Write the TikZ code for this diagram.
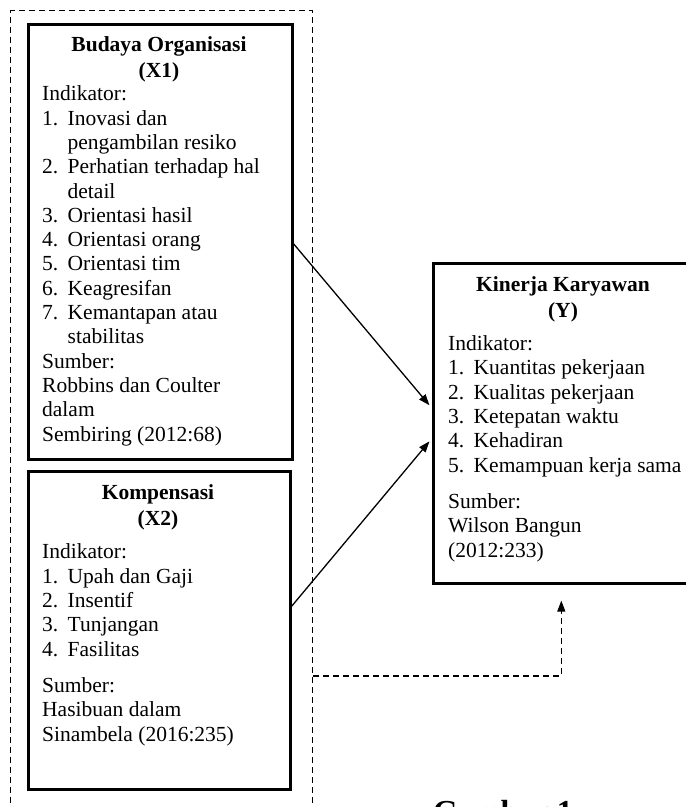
\documentclass[tikz,border=0pt]{standalone}
\usepackage{fontspec}
\setmainfont{Liberation Serif}
\usetikzlibrary{arrows.meta, positioning}

\newcommand{\nomor}[1]{\makebox[25.5pt][l]{#1}}
\newcommand{\lanjut}{\hspace*{25.5pt}}

\tikzset{
  kotak/.style={draw, line width=2.6pt, anchor=north west, inner sep=0pt},
  isi/.style={anchor=base west, align=left, inner sep=0pt, font=\fontsize{21.5}{24.3}\selectfont},
  judul/.style={anchor=base, align=center, inner sep=0pt, font=\fontsize{21.5}{26}\selectfont\bfseries},
  panah/.style={-{Triangle[length=11pt,width=8pt]}, line width=1.3pt},
  putus/.style={dash pattern=on 6pt off 4pt, line width=1.2pt}
}

\begin{document}
\begin{tikzpicture}[x=1pt, y=-1pt]
  \useasboundingbox (0,0) rectangle (686,807);
  \clip (0,0) rectangle (686,807);

  % bingkai variabel bebas
  \node[putus, draw, anchor=north west, inner sep=0pt, minimum width=302pt, minimum height=840pt] (luar) at (10,10) {};

  % kotak variabel
  \node[kotak, minimum width=264pt, minimum height=435pt] (budaya) at (27,23) {};
  \node[kotak, minimum width=262pt, minimum height=318pt] (kompensasi) at (27,470) {};
  \node[kotak, minimum width=256pt, minimum height=320pt] (kinerja) at (432,262) {};

  % X1 (anchor pada baris terakhir)
  \node[judul] (judulx1) at (159,77) {Budaya Organisasi\\(X1)};
  \node[isi] (isix1) at (42,441) {Indikator:\\
    \nomor{1.}Inovasi dan\\
    \lanjut pengambilan resiko\\
    \nomor{2.}Perhatian terhadap hal\\
    \lanjut detail\\
    \nomor{3.}Orientasi hasil\\
    \nomor{4.}Orientasi orang\\
    \nomor{5.}Orientasi tim\\
    \nomor{6.}Keagresifan\\
    \nomor{7.}Kemantapan atau\\
    \lanjut stabilitas\\
    Sumber:\\
    Robbins dan Coulter\\
    dalam\\
    Sembiring (2012:68)};

  % X2
  \node[judul] (judulx2) at (158,525) {Kompensasi\\(X2)};
  \node[isi] (isix2) at (42,741) {Indikator:\\
    \nomor{1.}Upah dan Gaji\\
    \nomor{2.}Insentif\\
    \nomor{3.}Tunjangan\\
    \nomor{4.}Fasilitas\\[12pt]
    Sumber:\\
    Hasibuan dalam\\
    Sinambela (2016:235)};

  % Y
  \node[judul] (juduly) at (563,317) {Kinerja Karyawan\\(Y)};
  \node[isi] (isiy) at (448,557) {Indikator:\\
    \nomor{1.}Kuantitas pekerjaan\\
    \nomor{2.}Kualitas pekerjaan\\
    \nomor{3.}Ketepatan waktu\\
    \nomor{4.}Kehadiran\\
    \nomor{5.}Kemampuan kerja sama\\[12pt]
    Sumber:\\
    Wilson Bangun\\
    (2012:233)};

  % panah
  \draw[panah, shorten >=4pt] ([yshift=-2pt]budaya.east) -- ([yshift=15pt]kinerja.west);
  \draw[panah, shorten >=4pt] ([yshift=24pt]kompensasi.east) -- ([yshift=-15pt]kinerja.west);
  \coordinate (belok) at (560,676);
  \draw[panah, putus] (luar.east |- belok) -| ([yshift=-16pt]kinerja.south);

  \node[anchor=base west, inner sep=0pt, font=\fontsize{32}{36}\selectfont\bfseries] (gambar) at (433,822) {Gambar 1};
\end{tikzpicture}
\end{document}
